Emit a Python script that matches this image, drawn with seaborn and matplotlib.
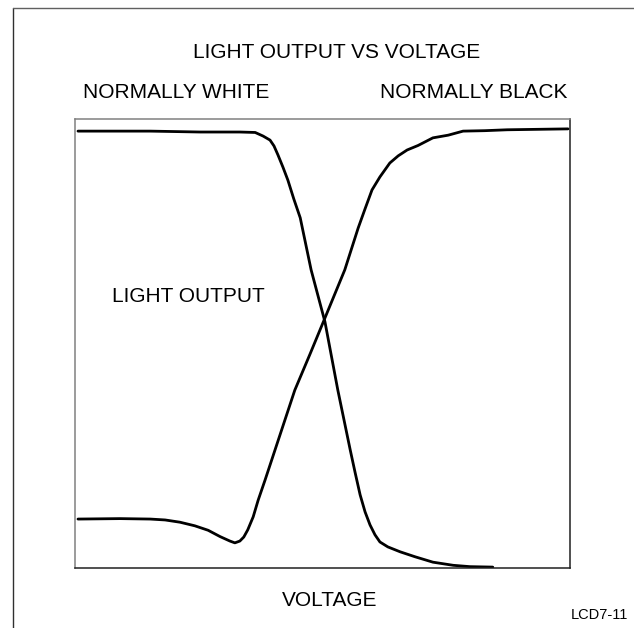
import matplotlib
matplotlib.use("Agg")
import matplotlib.pyplot as plt
from matplotlib.lines import Line2D
import seaborn as sns
import pandas as pd

# Data (voltage 0-100, light output 0-100)
nw_voltage = [0.6, 15.2, 25.3, 33.3, 36.4, 38.0, 39.4, 40.2, 41.0, 42.0, 43.0, 44.2,
              45.5, 47.7, 50.5, 53.1, 55.6, 56.6, 57.6, 58.6, 59.6, 60.6, 61.6, 63.2,
              65.7, 68.7, 72.3, 76.4, 79.8, 84.4]
nw_light = [97.3, 97.3, 97.1, 97.1, 97.0, 96.2, 95.3, 94.0, 92.0, 89.3, 86.4, 82.2,
            78.0, 66.4, 54.8, 39.6, 26.3, 21.2, 16.3, 12.5, 9.6, 7.4, 5.8, 4.7,
            3.6, 2.5, 1.3, 0.6, 0.3, 0.2]

nb_voltage = [0.6, 9.1, 15.2, 18.2, 21.2, 24.2, 26.9, 29.3, 31.3, 32.3, 33.3, 34.1,
              34.9, 36.0, 37.0, 38.4, 41.4, 44.4, 47.5, 50.5, 54.5, 57.2, 58.6, 60.0,
              61.6, 63.6, 65.3, 67.1, 69.3, 72.3, 75.4, 78.4, 82.8, 87.3, 99.6]
nb_light = [10.9, 11.0, 10.9, 10.7, 10.2, 9.4, 8.4, 7.0, 6.0, 5.6, 6.0, 6.9,
            8.5, 11.4, 15.1, 19.6, 29.6, 39.6, 47.7, 55.7, 66.4, 75.7, 80.0, 84.2,
            87.1, 90.2, 91.8, 93.1, 94.1, 95.8, 96.4, 97.3, 97.4, 97.6, 97.8]

title_text = "LIGHT OUTPUT VS VOLTAGE"
left_label = "NORMALLY WHITE"
right_label = "NORMALLY BLACK"
y_label = "LIGHT OUTPUT"
x_label = "VOLTAGE"
fig_code = "LCD7-11"

sns.set_theme(style="white")
plt.rcParams["font.family"] = ["Liberation Sans", "DejaVu Sans"]

W, H = 634, 628
fig = plt.figure(figsize=(W / 100, H / 100), dpi=100)
ax = fig.add_axes([75 / W, (H - 568) / H, 495 / W, 449 / H])

df_nw = pd.DataFrame({"v": nw_voltage, "l": nw_light})
df_nb = pd.DataFrame({"v": nb_voltage, "l": nb_light})
for df in (df_nw, df_nb):
    sns.lineplot(data=df, x="v", y="l", ax=ax, color="black", lw=2.0,
                 sort=False, estimator=None)
for ln in ax.lines:
    ln.set_solid_joinstyle("round")
    ln.set_solid_capstyle("round")

ax.set_xlim(0, 100)
ax.set_ylim(0, 100)
ax.set_xticks([])
ax.set_yticks([])
ax.set_xlabel("")
ax.set_ylabel("")
for side, col in [("left", "#808080"), ("top", "#808080"),
                  ("bottom", "#202020"), ("right", "#202020")]:
    ax.spines[side].set_visible(True)
    ax.spines[side].set_color(col)
    ax.spines[side].set_linewidth(1.1)

fs = 15
tc = "black"
fig.text(337 / W, 1 - 53 / H, title_text, ha="center", va="center", fontsize=fs, color=tc)
fig.text(83 / W, 1 - 92 / H, left_label, ha="left", va="center", fontsize=fs, color=tc)
fig.text(568 / W, 1 - 92 / H, right_label, ha="right", va="center", fontsize=fs, color=tc)
fig.text(112 / W, 1 - 296 / H, y_label, ha="left", va="center", fontsize=fs, color=tc)
fig.text(330 / W, 1 - 600 / H, x_label, ha="center", va="center", fontsize=fs, color=tc)
fig.text(628 / W, 1 - 615 / H, fig_code, ha="right", va="center", fontsize=10.5, color=tc)

# outer frame (left and top only)
fig.add_artist(Line2D([12.5 / W, 12.5 / W], [0, 1 - 7.5 / H], transform=fig.transFigure,
                      color="#303030", lw=1.0))
fig.add_artist(Line2D([12.5 / W, 1], [1 - 7.5 / H, 1 - 7.5 / H], transform=fig.transFigure,
                      color="#606060", lw=1.0))

fig.savefig("out.png", dpi=100, facecolor="white")
